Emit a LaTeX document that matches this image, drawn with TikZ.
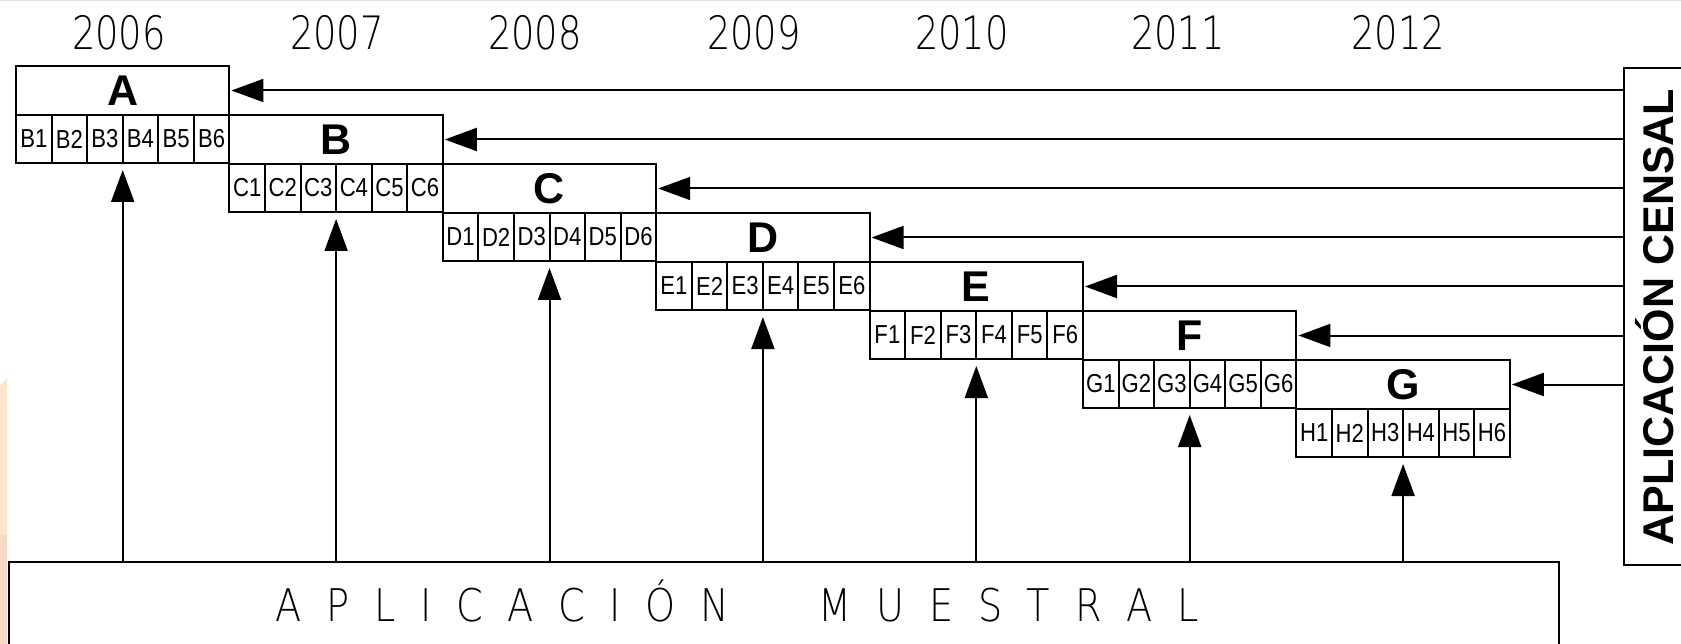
\documentclass[tikz,border=0pt]{standalone}
\usepackage{fontspec}
\setmainfont{Liberation Sans}
\IfFontExistsTF{DejaVu Sans ExtraLight}{\newfontfamily\thinfont{DejaVu Sans ExtraLight}}{\newfontfamily\thinfont{Liberation Sans}}
\usetikzlibrary{arrows.meta,calc}
\definecolor{peachA}{HTML}{FDE5C9}
\definecolor{peachB}{HTML}{F9DAC6}
\definecolor{topline}{HTML}{E0E0E0}
\newcommand\ls{\kern 29pt}
\tikzset{
  box/.style={draw, line width=2pt, inner sep=0pt, outer sep=0pt},
  titlebox/.style={box, minimum width=213.4pt, minimum height=49pt,
    font=\bfseries\fontsize{43}{46}\selectfont},
  cellbox/.style={box, minimum width=35.567pt, minimum height=48pt,
    font=\fontsize{26}{28}\selectfont},
  yearlbl/.style={inner sep=0pt, font=\thinfont\fontsize{46}{50}\selectfont},
  arr/.style={line width=2pt, -{Triangle[length=32pt,width=23pt]}},
}
\begin{document}
\begin{tikzpicture}[x=1pt,y=-1pt]
\useasboundingbox (0,0) rectangle (1681,644);
\clip (0,0) rectangle (1681,644);
\fill[white] (0,0) rectangle (1681,644);
% background artefacts
\fill[topline] (0,0) rectangle (1681,1.5);
\fill[peachA] (0,386) -- (7,378) -- (7,535) -- (0,535) -- cycle;
\fill[peachB] (0,535) rectangle (7,644);
% years
\foreach \yr/\xx in {2006/119,2007/337,2008/535,2009/754,2010/962,2011/1178,2012/1398}
  \node[yearlbl] (y\yr) at (\xx,32.5) {\scalebox{0.8}[1]{\yr}};
% census box (its right side runs off the picture)
\draw[line width=2pt] (1700,68) -- (1624,68) -- (1624,565) -- (1700,565);
\coordinate (cen) at (1624,317);
\node[inner sep=0pt, font=\bfseries\fontsize{43}{46}\selectfont] (cent) at (1655,317)
      {\rotatebox{90}{APLICACIÓN CENSAL}};
% sample box (its bottom runs off the picture)
\draw[line width=2pt] (9,700) -- (9,562) -- (1559,562) -- (1559,700);
\coordinate (mu) at (784,562);
\node[inner sep=0pt, font=\thinfont\fontsize{45}{48}\selectfont] (mut) at (737,601)
  {\scalebox{0.85}[1]{A\ls P\ls L\ls I\ls C\ls A\ls C\ls I\ls Ó\ls N\kern 106pt M\ls U\ls E\ls S\ls T\ls R\ls A\ls L}};
% staircase boxes
\foreach \i/\L/\S in {0/A/B,1/B/C,2/C/D,3/D/E,4/E/F,5/F/G,6/G/H}{
  \pgfmathsetmacro\lx{16+213.4*\i}
  \pgfmathsetmacro\ty{66+49*\i}
  \node[titlebox, anchor=north west] (t\i) at (\lx,\ty) {\L};
  \foreach \j in {1,...,6}{
    \node[cellbox, anchor=north west] (c\i\j) at ($(t\i.south west)+({(\j-1)*35.567},0)$)
      {\scalebox{0.85}[1]{\S\j}};
  }
  \draw[arr, shorten >=2pt] (t\i.east -| cen) -- (t\i.east);
  \draw[arr, shorten >=7pt] (mu -| c\i3.south east) -- (c\i3.south east);
}
\end{tikzpicture}
\end{document}
